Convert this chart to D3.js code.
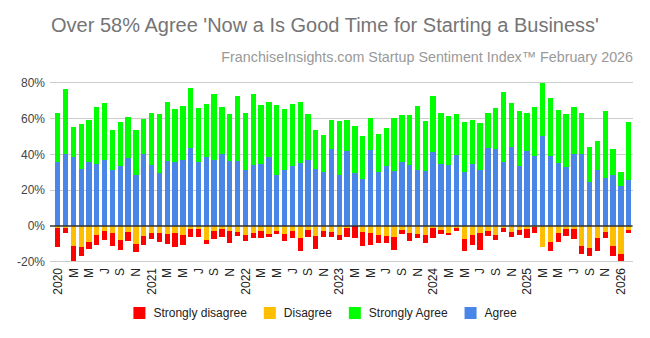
<!DOCTYPE html>
<html>
<head>
<meta charset="utf-8">
<script src="https://cdn.jsdelivr.net/npm/d3@7"></script>
<style>
  html, body { margin: 0; padding: 0; background: #fff; }
  svg { display: block; font-family: "Liberation Sans", Arial, sans-serif; }
</style>
</head>
<body>
<svg id="chart" width="650" height="338"></svg>
<script>
// ---- DATA ----
const years = [2020, 2021, 2022, 2023, 2024, 2025, 2026];
const monthLetters = ["", "J", "F", "M", "A", "M", "J", "J", "A", "S", "O", "N", "D"];
const months = [];
years.forEach(y => { const last = y === 2026 ? 2 : 12; for (let m = 1; m <= last; m++) months.push(y + "-" + String(m).padStart(2, "0")); });

const agree = [
  35.9, 40.4, 38.5, 32.0, 35.9, 34.8, 37.0, 31.4, 33.7, 38.1, 28.5, 40.4,
  34.2, 29.8, 36.5, 35.9, 37.0, 43.7, 35.9, 38.5, 37.0, 40.4, 36.5, 36.5,
  31.4, 34.2, 34.8, 38.7, 28.7, 31.4, 33.7, 35.3, 37.0, 32.0, 30.3, 43.2,
  28.7, 42.0, 29.8, 26.4, 42.6, 30.3, 33.7, 30.9, 35.9, 34.2, 31.4, 30.9,
  41.5, 34.8, 34.2, 39.8, 30.3, 34.8, 31.4, 43.7, 43.2, 35.9, 44.3, 33.7,
  42.0, 39.3, 50.4, 39.3, 35.3, 33.1, 40.4, 40.4, 24.7, 31.4, 27.0, 28.7,
  22.5, 25.9
];
const stronglyAgree = [
  27.4, 36.1, 16.8, 24.9, 23.3, 31.6, 31.7, 22.2, 24.3, 22.7, 25.1, 19.3,
  29.1, 32.9, 32.9, 29.6, 30.2, 33.5, 30.1, 29.8, 36.9, 26.2, 26.2, 36.2,
  31.9, 39.7, 32.9, 30.7, 39.0, 34.1, 34.6, 34.1, 25.7, 21.8, 20.7, 16.1,
  30.1, 17.3, 26.2, 24.0, 17.9, 21.2, 21.2, 29.6, 26.2, 27.9, 35.8, 27.9,
  31.2, 28.5, 27.4, 22.9, 27.9, 24.5, 26.3, 19.6, 22.8, 39.1, 24.5, 30.7,
  21.3, 27.3, 29.6, 32.3, 29.6, 29.6, 26.2, 22.9, 19.6, 16.2, 37.4, 14.5,
  7.8, 32.3
];
const disagree = [
  1.1, 0.9, 11.2, 11.7, 8.9, 5.0, 2.8, 3.9, 7.8, 3.3, 10.0, 5.6,
  3.9, 3.7, 4.5, 3.7, 4.8, 1.5, 1.5, 7.6, 2.6, 1.5, 2.6, 3.2,
  5.0, 3.9, 2.8, 4.3, 2.8, 4.3, 2.6, 6.7, 2.0, 5.4, 2.6, 3.2,
  4.8, 0.9, 0.2, 3.2, 3.7, 4.8, 5.4, 6.0, 2.0, 3.7, 4.3, 4.8,
  0.9, 2.0, 3.7, 0.9, 7.1, 4.8, 3.7, 2.6, 4.8, 0.9, 3.2, 2.0,
  1.5, 0.4, 11.5, 8.7, 3.7, 1.5, 1.5, 11.0, 12.1, 6.5, 3.2, 11.0,
  15.4, 2.0
];
const stronglyDisagree = [
  10.8, 3.2, 8.5, 5.2, 3.8, 5.8, 5.2, 7.4, 5.8, 5.3, 4.7, 5.0,
  3.2, 5.4, 5.7, 8.2, 6.0, 4.8, 4.8, 2.4, 4.8, 4.8, 7.1, 2.6,
  3.6, 2.6, 4.1, 2.0, 1.9, 4.1, 4.3, 7.4, 4.3, 7.6, 3.7, 3.1,
  2.8, 5.4, 6.7, 8.1, 7.1, 4.9, 4.3, 7.6, 2.7, 4.9, 2.6, 4.9,
  6.0, 2.7, 1.5, 2.1, 7.0, 6.0, 9.9, 3.2, 3.2, 2.6, 3.1, 3.2,
  5.4, 3.3, 0.0, 5.4, 5.4, 4.3, 5.9, 4.8, 4.8, 7.6, 3.7, 5.9,
  4.3, 2.1
];
const yTicks = [-20, 0, 20, 40, 60, 80];
const legendLabels = ["Strongly disagree", "Disagree", "Strongly Agree", "Agree"];
const titleText = "Over 58% Agree 'Now a Is Good Time for Starting a Business'";
const subtitleText = "FranchiseInsights.com Startup Sentiment Index\u2122 February 2026";

// ---- STYLE ----
const colors = { sd: "#ff0000", d: "#ffbf00", sa: "#00ff00", a: "#4a86e8" };
const legendColors = [colors.sd, colors.d, colors.sa, colors.a];

function tickLabel(key) {
  const [y, m] = key.split("-").map(Number);
  if (m === 1) return String(y);
  if (m % 2 === 1) return monthLetters[m];
  return "";
}

const svg = d3.select("#chart");
const plotL = 53.8, plotR = 632.6;

const x = d3.scaleBand().domain(months).range([plotL, plotR]).paddingInner(0.32).paddingOuter(0.16);
const y = d3.scaleLinear().domain([-20, 80]).range([261.8, 82.7]);

// Title
svg.append("text").attr("x", 325).attr("y", 32).attr("text-anchor", "middle")
  .attr("font-size", 20).attr("fill", "#757575").text(titleText);
svg.append("text").attr("x", 633).attr("y", 62).attr("text-anchor", "end")
  .attr("font-size", 14.3).attr("fill", "#999999").text(subtitleText);

// Gridlines
svg.append("g").selectAll("line").data(yTicks.filter(t => t !== 0)).join("line")
  .attr("x1", 50).attr("x2", plotR).attr("y1", d => y(d)).attr("y2", d => y(d))
  .attr("stroke", "#cccccc").attr("stroke-width", 1).attr("shape-rendering", "crispEdges");

// Y labels
svg.append("g").selectAll("text").data(yTicks).join("text")
  .attr("x", 45).attr("y", d => y(d)).attr("dy", "0.35em").attr("text-anchor", "end")
  .attr("font-size", 12).attr("fill", "#444444").text(d => d + "%");

// Bars
const data = months.map((m, i) => ({ m, a: agree[i], sa: stronglyAgree[i], d: disagree[i], sd: stronglyDisagree[i] }));
const g = svg.append("g").attr("shape-rendering", "crispEdges");
const bw = x.bandwidth();
g.selectAll(".a").data(data).join("rect").attr("x", d => x(d.m)).attr("width", bw)
  .attr("y", d => y(d.a)).attr("height", d => y(0) - y(d.a)).attr("fill", colors.a);
g.selectAll(".sa").data(data).join("rect").attr("x", d => x(d.m)).attr("width", bw)
  .attr("y", d => y(d.a + d.sa)).attr("height", d => y(d.a) - y(d.a + d.sa)).attr("fill", colors.sa);
g.selectAll(".d").data(data).join("rect").attr("x", d => x(d.m)).attr("width", bw)
  .attr("y", y(0)).attr("height", d => y(-d.d) - y(0)).attr("fill", colors.d);
g.selectAll(".sd").data(data).join("rect").attr("x", d => x(d.m)).attr("width", bw)
  .attr("y", d => y(-d.d)).attr("height", d => y(-(d.d + d.sd)) - y(-d.d)).attr("fill", colors.sd);

// Zero line
svg.append("line").attr("x1", 50).attr("x2", plotR).attr("y1", y(0)).attr("y2", y(0))
  .attr("stroke", "#333333").attr("stroke-width", 1.5);

// X labels
svg.append("g").selectAll("text").data(months.filter(m => tickLabel(m) !== "")).join("text")
  .attr("transform", d => `translate(${x(d) + bw / 2},268) rotate(-90)`)
  .attr("text-anchor", "end").attr("dy", "0.35em")
  .attr("font-size", 12).attr("fill", "#222222").text(d => tickLabel(d));

// Legend
const legend = svg.append("g");
let lx = 0;
const items = legendLabels.map((lab, i) => {
  const item = legend.append("g");
  item.append("rect").attr("x", 0).attr("y", -6).attr("width", 12).attr("height", 12).attr("fill", legendColors[i]);
  const t = item.append("text").attr("x", 20).attr("y", 0).attr("dy", "0.35em")
    .attr("font-size", 12).attr("fill", "#222222").text(lab);
  const w = 20 + t.node().getComputedTextLength();
  item.attr("transform", `translate(${lx},313)`);
  lx += w + 17;
  return item;
});
const totalW = lx - 17;
legend.attr("transform", `translate(${325 - totalW / 2},0)`);
</script>
</body>
</html>
